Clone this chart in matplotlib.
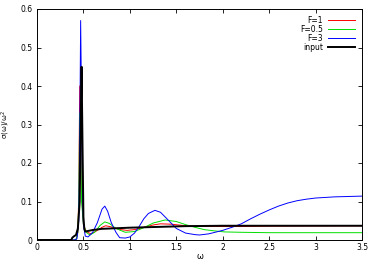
import matplotlib
matplotlib.use("Agg")
import matplotlib.pyplot as plt
from matplotlib.ticker import FuncFormatter

# F=3 (blue)
w_f3 = [0, 0.40, 0.43, 0.45, 0.46, 0.47, 0.48, 0.49, 0.50, 0.52, 0.55, 0.60, 0.65, 0.70, 0.73, 0.76,
        0.80, 0.85, 0.89, 0.95, 1.00, 1.05, 1.10, 1.15, 1.20, 1.27, 1.33, 1.40, 1.50, 1.60, 1.70,
        1.75, 1.85, 2.00, 2.10, 2.20, 2.30, 2.40, 2.50, 2.60, 2.70, 2.80, 2.90, 3.00, 3.20, 3.50]
s_f3 = [0, 0, 0.003, 0.05, 0.25, 0.57, 0.35, 0.12, 0.04, 0.01, 0.008, 0.02, 0.045, 0.08, 0.088, 0.075,
        0.045, 0.02, 0.006, 0.005, 0.008, 0.018, 0.035, 0.055, 0.069, 0.077, 0.072, 0.055, 0.03, 0.018, 0.014,
        0.013, 0.016, 0.025, 0.033, 0.042, 0.055, 0.067, 0.078, 0.088, 0.096, 0.102, 0.106, 0.109, 0.112, 0.114]

# F=0.5 (green)
w_f05 = [0, 0.42, 0.44, 0.45, 0.46, 0.47, 0.48, 0.50, 0.53, 0.57, 0.62, 0.68, 0.73, 0.78, 0.85, 0.95,
         1.05, 1.15, 1.25, 1.38, 1.50, 1.60, 1.70, 1.75, 1.80, 1.90, 2.02, 2.20, 2.50, 3.50]
s_f05 = [0, 0, 0.02, 0.10, 0.33, 0.25, 0.10, 0.04, 0.02, 0.013, 0.02, 0.038, 0.047, 0.043, 0.03, 0.02,
         0.022, 0.032, 0.044, 0.052, 0.048, 0.04, 0.033, 0.03, 0.027, 0.024, 0.021, 0.02, 0.019, 0.019]

# F=1 (red)
w_f1 = [0, 0.42, 0.44, 0.45, 0.46, 0.47, 0.48, 0.50, 0.53, 0.58, 0.63, 0.70, 0.74, 0.80, 0.90, 0.97,
        1.05, 1.15, 1.25, 1.33, 1.45, 1.60, 1.80, 2.00, 2.20, 2.50, 3.50]
s_f1 = [0, 0, 0.02, 0.12, 0.40, 0.30, 0.12, 0.04, 0.022, 0.016, 0.022, 0.033, 0.037, 0.034, 0.027, 0.025,
        0.027, 0.033, 0.039, 0.042, 0.041, 0.037, 0.035, 0.035, 0.035, 0.036, 0.037]

# input (black)
w_in = [0, 0.37, 0.38, 0.40, 0.42, 0.44, 0.46, 0.47, 0.48, 0.49, 0.50, 0.51, 0.52, 0.60, 0.70, 0.80,
        1.00, 1.30, 1.60, 2.00, 3.50]
s_in = [0, 0, 0.006, 0.01, 0.013, 0.03, 0.10, 0.30, 0.45, 0.25, 0.06, 0.028, 0.022, 0.026, 0.029, 0.030,
        0.032, 0.034, 0.036, 0.037, 0.037]

x_ticks = [0, 0.5, 1, 1.5, 2, 2.5, 3, 3.5]
y_ticks = [0, 0.1, 0.2, 0.3, 0.4, 0.5, 0.6]

fig = plt.figure(figsize=(3.74, 2.62), dpi=100)
ax = fig.add_axes([37/374, 22/262, 325/374, 231/262])

ax.plot(w_f1, s_f1, color="#ff0000", lw=0.7, label="F=1")
ax.plot(w_f05, s_f05, color="#00e000", lw=0.7, label="F=0.5")
ax.plot(w_f3, s_f3, color="#0000ff", lw=0.7, label="F=3")
ax.plot(w_in, s_in, color="black", lw=1.4, label="input")

ax.set_xlim(0, 3.5)
ax.set_ylim(0, 0.6)
ax.set_xticks(x_ticks)
ax.set_yticks(y_ticks)
fmt = FuncFormatter(lambda v, p: "%g" % v)
ax.xaxis.set_major_formatter(fmt)
ax.yaxis.set_major_formatter(fmt)
ax.tick_params(direction="in", length=3, width=0.6, labelsize=5.5, top=True, right=True, pad=3)
ax.tick_params(axis="x", pad=2.5)
for s in ax.spines.values():
    s.set_linewidth(0.7)

ax.set_xlabel("ω", fontsize=6, labelpad=0)
ax.set_ylabel("σ(ω)/ω$^2$", fontsize=5, labelpad=6)

leg = ax.legend(loc="upper right", frameon=False, fontsize=5.5, markerfirst=False,
                handlelength=3.6, handletextpad=0.6, labelspacing=0.0, borderaxespad=0.5)
for t in leg.get_texts():
    t.set_ha("right")

fig.savefig("out.png", dpi=100)
